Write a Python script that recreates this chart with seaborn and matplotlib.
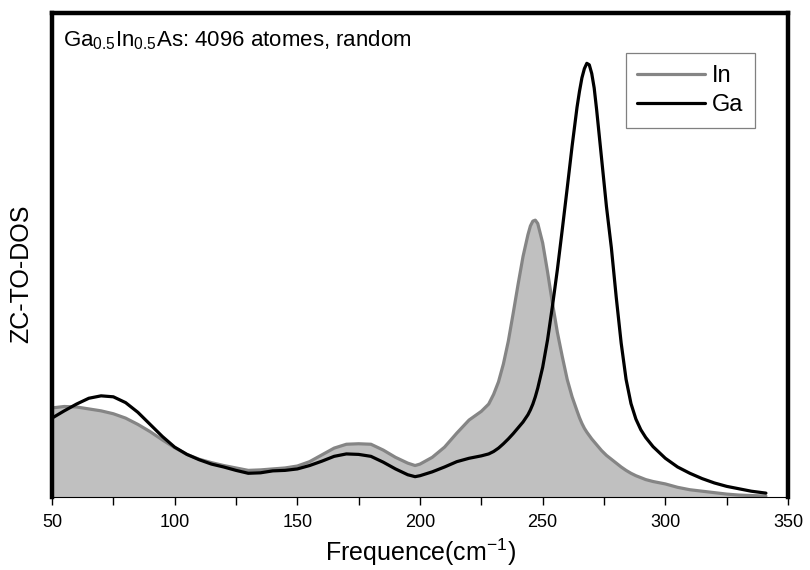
import pandas as pd
import numpy as np
import matplotlib.pyplot as plt
import seaborn as sns
from matplotlib.ticker import MultipleLocator

sns.set_theme(style="white")
plt.rcParams["font.family"] = ["Liberation Sans", "DejaVu Sans"]
plt.rcParams["mathtext.fontset"] = "custom"
plt.rcParams["mathtext.rm"] = "Liberation Sans"
plt.rcParams["mathtext.it"] = "Liberation Sans:italic"
plt.rcParams["mathtext.bf"] = "Liberation Sans:bold"
plt.rcParams["text.color"] = "black"
plt.rcParams["axes.labelcolor"] = "black"
plt.rcParams["xtick.color"] = "black"

# frequences (cm-1) et ZC-TO-DOS
freq = [50, 55, 60, 65, 70, 75, 80, 85, 90, 95, 100, 105, 110, 115, 120, 125,
        130, 135, 140, 145, 150, 155, 160, 165, 170, 175, 180, 185, 190, 195,
        198, 200, 205, 210, 215, 220, 225, 228, 230, 232, 234, 236, 238, 240,
        242, 244, 245, 246, 247, 248, 250, 252, 254, 256, 258, 260, 262, 264,
        265, 266, 267, 268, 269, 270, 271, 272, 274, 276, 278, 280, 282, 284,
        286, 288, 290, 292, 295, 300, 305, 310, 315, 320, 325, 330, 335, 341]

dos_in = [0.184, 0.187, 0.186, 0.182, 0.178, 0.172, 0.163, 0.150, 0.135, 0.118,
          0.102, 0.088, 0.078, 0.071, 0.065, 0.060, 0.055, 0.056, 0.058, 0.060,
          0.064, 0.073, 0.087, 0.101, 0.109, 0.110, 0.109, 0.097, 0.082, 0.070,
          0.065, 0.068, 0.082, 0.103, 0.132, 0.159, 0.177, 0.192, 0.212, 0.238,
          0.275, 0.322, 0.380, 0.440, 0.497, 0.542, 0.560, 0.570, 0.572, 0.565,
          0.525, 0.465, 0.400, 0.340, 0.290, 0.243, 0.207, 0.178, 0.164, 0.152,
          0.142, 0.134, 0.127, 0.120, 0.114, 0.108, 0.096, 0.086, 0.078, 0.070,
          0.062, 0.055, 0.049, 0.044, 0.040, 0.036, 0.032, 0.027, 0.020, 0.015,
          0.012, 0.009, 0.006, 0.004, 0.003, 0.002]

dos_ga = [0.163, 0.178, 0.192, 0.204, 0.209, 0.207, 0.195, 0.175, 0.150, 0.125,
          0.103, 0.088, 0.077, 0.068, 0.062, 0.055, 0.049, 0.050, 0.054, 0.055,
          0.058, 0.065, 0.074, 0.084, 0.089, 0.088, 0.084, 0.072, 0.058, 0.046,
          0.042, 0.044, 0.052, 0.062, 0.073, 0.080, 0.085, 0.089, 0.094, 0.101,
          0.110, 0.120, 0.131, 0.143, 0.155, 0.170, 0.180, 0.192, 0.207, 0.225,
          0.268, 0.325, 0.395, 0.470, 0.553, 0.638, 0.725, 0.805, 0.838, 0.866,
          0.885, 0.896, 0.893, 0.875, 0.845, 0.800, 0.700, 0.600, 0.515, 0.412,
          0.318, 0.243, 0.193, 0.161, 0.139, 0.123, 0.104, 0.080, 0.062, 0.049,
          0.038, 0.029, 0.022, 0.017, 0.012, 0.008]

df = pd.DataFrame({
    "freq": freq + freq,
    "dos": dos_in + dos_ga,
    "atome": ["In"] * len(freq) + ["Ga"] * len(freq),
})

fig = plt.figure(figsize=(8.1, 5.7), dpi=100)
ax = fig.add_axes([52 / 810, 1 - 497 / 570, 736 / 810, 484 / 570])

ax.fill_between(freq, dos_in, 0, color="#c0c0c0", linewidth=0, zorder=1)
sns.lineplot(data=df, x="freq", y="dos", hue="atome", hue_order=["In", "Ga"],
             palette={"In": "#858585", "Ga": "black"}, estimator=None,
             sort=False, linewidth=2.3, ax=ax, zorder=2)
for line in ax.get_lines():
    line.set_solid_joinstyle("round")

ax.set_xlim(50, 350)
ax.set_ylim(0, 1)
ax.set_yticks([])
ax.xaxis.set_major_locator(MultipleLocator(50))
ax.xaxis.set_minor_locator(MultipleLocator(25))
ax.tick_params(axis="x", which="both", bottom=True, direction="out", length=6,
               width=1, color="black", labelsize=13, pad=6)

for side in ["left", "top", "right"]:
    ax.spines[side].set_linewidth(3.2)
    ax.spines[side].set_color("black")
ax.spines["bottom"].set_linewidth(0.8)
ax.spines["bottom"].set_color("black")

ax.set_xlabel(r"Frequence(cm$^{-1}$)", fontsize=18, labelpad=4)
ax.set_ylabel("ZC-TO-DOS", fontsize=18)
ax.yaxis.set_label_coords(-0.026, 0.461)

ax.text(0.015, 0.944, r"Ga$_{0.5}$In$_{0.5}$As: 4096 atomes, random",
        transform=ax.transAxes, fontsize=16, va="center", ha="left")

leg = ax.legend(loc="upper right", bbox_to_anchor=(0.955, 0.917), fontsize=17,
                frameon=True, fancybox=False, handlelength=2.85, handletextpad=0.3,
                borderpad=0.5, labelspacing=0.3, borderaxespad=0, title=None)
leg.get_frame().set_edgecolor("#606060")
leg.get_frame().set_linewidth(0.9)
for h in leg.get_lines():
    h.set_linewidth(2.3)

fig.savefig("out.png", dpi=100)
